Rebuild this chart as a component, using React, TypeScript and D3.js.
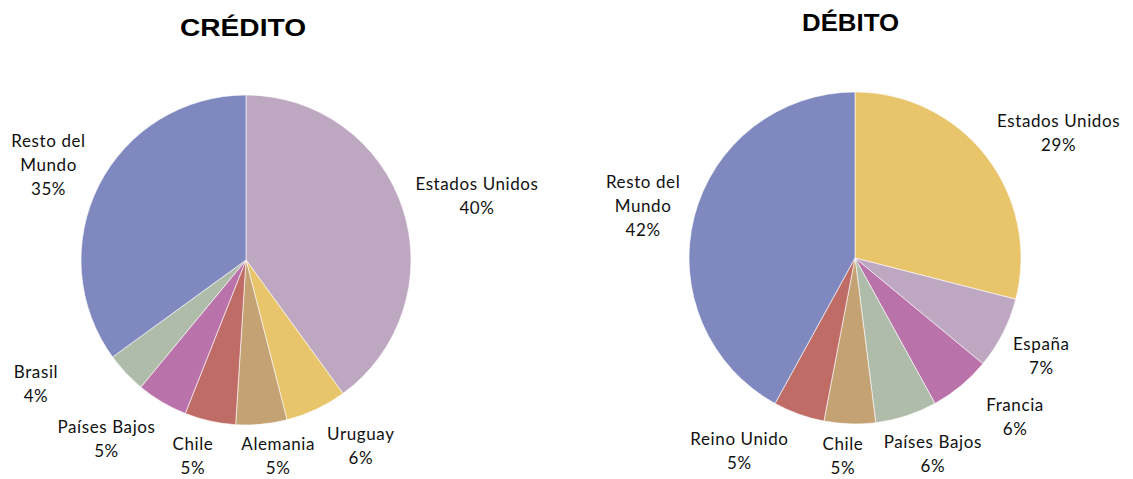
import React, { useEffect, useRef } from 'react';
import * as d3 from 'd3';

// Crédito
const creditNames = ['Estados Unidos', 'Uruguay', 'Alemania', 'Chile', 'Países Bajos', 'Brasil', 'Resto del Mundo'];
const creditValues = [40, 6, 5, 5, 5, 4, 35];
const creditColors = ['#BEA7C1', '#E8C56A', '#C4A274', '#BF6C66', '#BA72AA', '#AFBCA9', '#7F89BF'];
const creditLabelLines = [['Estados Unidos'], ['Uruguay'], ['Alemania'], ['Chile'], ['Países Bajos'], ['Brasil'], ['Resto del', 'Mundo']];

// Débito
const debitNames = ['Estados Unidos', 'España', 'Francia', 'Países Bajos', 'Chile', 'Reino Unido', 'Resto del Mundo'];
const debitValues = [29, 7, 6, 6, 5, 5, 42];
const debitColors = ['#E8C56A', '#BEA7C1', '#BA72AA', '#AFBCA9', '#C4A274', '#BF6C66', '#7F89BF'];
const debitLabelLines = [['Estados Unidos'], ['España'], ['Francia'], ['Países Bajos'], ['Chile'], ['Reino Unido'], ['Resto del', 'Mundo']];

// label nudges (px) from the polar anchor
const creditNudges = [[17, 6], [19, -18], [11, -28], [-4, -24], [-25, -15], [-46, -30], [3, 7]];
const debitNudges = [[25, 14], [-15, -5], [16, -15], [8, -19], [-5, -28], [-39, -20], [7, 4]];

interface PieSpec {
  title: string;
  titleX: number;
  titleY: number;
  titleLen: number;
  cx: number;
  cy: number;
  r: number;
  names: string[];
  values: number[];
  colors: string[];
  lines: string[][];
  nudges: number[][];
}

const charts: PieSpec[] = [
  { title: 'CRÉDITO', titleX: 180, titleY: 36, titleLen: 126, cx: 246, cy: 260, r: 165,
    names: creditNames, values: creditValues, colors: creditColors, lines: creditLabelLines, nudges: creditNudges },
  { title: 'DÉBITO', titleX: 802, titleY: 31, titleLen: 97, cx: 855, cy: 258, r: 166,
    names: debitNames, values: debitValues, colors: debitColors, lines: debitLabelLines, nudges: debitNudges },
];

const W = 1133;
const H = 479;
const LINE_H = 24;

export default function App() {
  const svgRef = useRef<SVGSVGElement>(null);

  useEffect(() => {
    if (!svgRef.current) return;
    const svg = d3.select(svgRef.current);
    svg.selectAll('*').remove();

    svg.append('rect').attr('width', W).attr('height', H).attr('fill', '#fff');

    charts.forEach(c => {
      const data = c.values.map((v, i) => ({ name: c.names[i], value: v, i }));
      const pie = d3.pie<any>().value(d => d.value).sort(null);
      const arcs = pie(data);
      const arc = d3.arc<any>().innerRadius(0).outerRadius(c.r);
      const labelR = c.r + 60;

      const g = svg.append('g').attr('transform', `translate(${c.cx},${c.cy})`);

      g.selectAll('path.slice')
        .data(arcs)
        .enter()
        .append('path')
        .attr('class', 'slice')
        .attr('d', arc as any)
        .attr('fill', d => c.colors[d.data.i])
        .attr('stroke', '#ffffff')
        .attr('stroke-width', 0.6);

      arcs.forEach(a => {
        const i = a.data.i;
        const mid = (a.startAngle + a.endAngle) / 2;
        const ax = labelR * Math.sin(mid) + c.nudges[i][0];
        const ay = -labelR * Math.cos(mid) + c.nudges[i][1];
        const lines = [...c.lines[i], `${a.data.value}%`];
        const n = lines.length;
        // block center -> first baseline
        const firstBase = ay - ((n - 1) * LINE_H - 12) / 2;
        const t = g.append('text')
          .attr('text-anchor', 'middle')
          .attr('font-family', 'Lato, "Open Sans", sans-serif')
          .attr('font-size', 17)
          .attr('letter-spacing', 0.6)
          .attr('fill', '#111');
        lines.forEach((ln, k) => {
          t.append('tspan')
            .attr('x', ax)
            .attr('y', firstBase + k * LINE_H)
            .text(ln);
        });
      });

      svg.append('text')
        .attr('x', c.titleX)
        .attr('y', c.titleY)
        .attr('font-family', '"Liberation Sans", Arial, sans-serif')
        .attr('font-weight', 'bold')
        .attr('font-size', 23.5)
        .attr('textLength', c.titleLen)
        .attr('lengthAdjust', 'spacingAndGlyphs')
        .attr('fill', '#000')
        .text(c.title);
    });
  }, []);

  return (
    <div style={{ position: 'absolute', left: 0, top: 0 }}>
      <svg ref={svgRef} width={W} height={H} style={{ display: 'block' }} />
    </div>
  );
}
